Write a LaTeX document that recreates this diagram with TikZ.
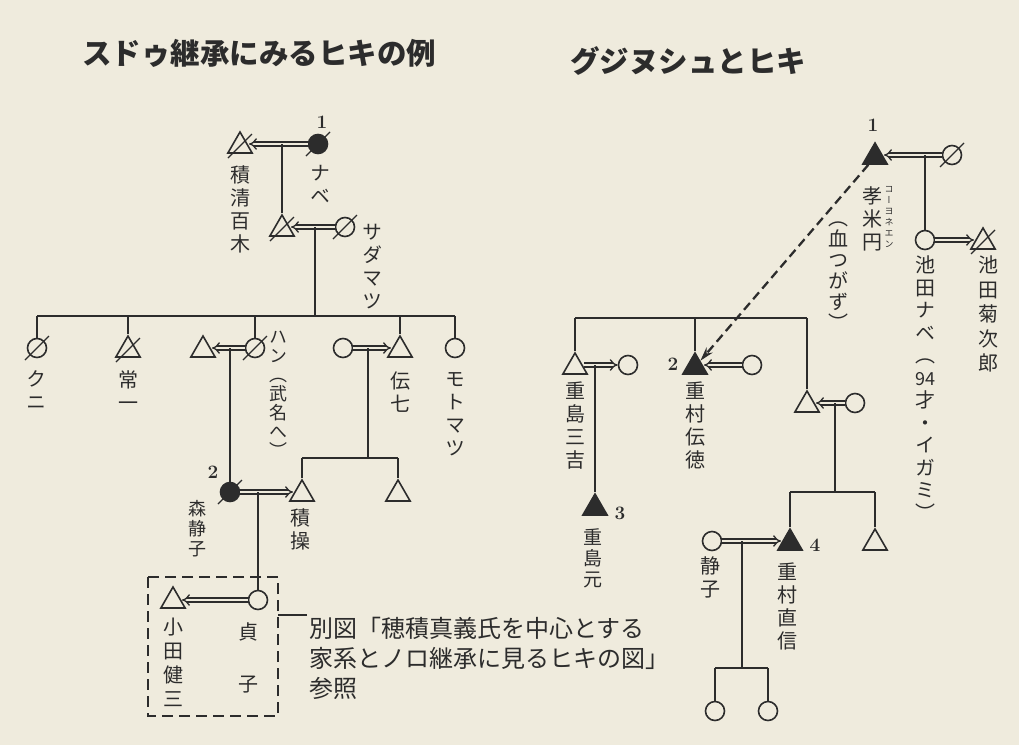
\documentclass[tikz,border=0pt]{standalone}
\usepackage{fontspec}
\usetikzlibrary{shapes.geometric,arrows.meta,calc}
\newfontfamily\jfont{Noto Sans CJK JP}
\newfontfamily\vfont[RawFeature=+vert]{Noto Sans CJK JP}
\definecolor{paper}{HTML}{EFEBDD}
\definecolor{ink}{HTML}{2C2C2C}
\newcommand\mycross[1]{\draw[draw=ink, line width=1.3pt] ($(#1)+(-12,12)$) -- ($(#1)+(12,-12)$);}
\begin{document}
\begin{tikzpicture}[x=1pt,y=-1pt,
 line/.style={draw=ink, line width=1.7pt},
 pcirc/.style={circle, draw=ink, line width=1.6pt, minimum size=19pt, inner sep=0pt, fill=paper},
 pfcirc/.style={pcirc, fill=ink},
 ptri/.style={regular polygon, regular polygon sides=3, draw=ink, line width=1.6pt, minimum size=28pt, inner sep=0pt, fill=paper},
 pftri/.style={ptri, fill=ink},
 dbl/.style={draw=ink, double=paper, double distance=2.6pt, line width=1.3pt, -{Implies}},
 dsh/.style={draw=ink, line width=2.3pt, dash pattern=on 9pt off 5pt, -{Stealth[length=14pt,width=8pt]}},
 vlab/.style={anchor=north, align=center, inner sep=0pt, text=ink, font=\vfont\fontsize{20}{23}\selectfont},
 num/.style={text=ink, font=\bfseries\fontsize{19}{19}\selectfont, inner sep=0pt},
 ttl/.style={anchor=west, inner sep=0pt, text=ink, font=\jfont\bfseries\fontsize{29.5}{29.5}\selectfont},
]
\fill[paper] (0,0) rectangle (1019,745);
\useasboundingbox (0,0) rectangle (1019,745);

% ---------- titles
\node[ttl] (title1) at (82,53) {スドゥ継承にみるヒキの例};
\node[ttl] (title2) at (570,61) {グジヌシュとヒキ};

% ================= LEFT =================
\node[pfcirc] (nabe) at (318,144) {};
\node[ptri] (tsumi) at (240,146) {};
\node[ptri] (c1) at (282,229) {};
\node[pcirc] (sada) at (345,227) {};
\node[pcirc] (kuni) at (37,348) {};
\node[ptri] (joi) at (128,350) {};
\node[ptri] (hanh) at (203,350) {};
\node[pcirc] (han) at (255,348) {};
\node[pcirc] (denw) at (343,348) {};
\node[ptri] (den7) at (400,350) {};
\node[pcirc] (moto) at (455,348) {};
\node[pfcirc] (shizu) at (230,492) {};
\node[ptri] (tsumis) at (302,494) {};
\node[ptri] (t2) at (398,494) {};
\node[pcirc] (sada2) at (258,600) {};
\node[ptri] (oda) at (173,601) {};

\mycross{nabe}
\mycross{tsumi}
\mycross{c1}
\mycross{sada}
\mycross{kuni}
\mycross{joi}
\mycross{han}
\mycross{shizu}

\draw[dbl] (nabe) -- (nabe -| tsumi.east);
\coordinate (m1) at (282,144);
\draw[line] (m1) -- (c1);
\draw[dbl] (sada) -- (sada -| c1.east);
\coordinate (m2) at (315,227);
\coordinate (barL) at (37,316);
\coordinate (barR) at (455,316);
\draw[line] (m2) -- (m2 |- barL);
\draw[line] (barL) -- (barR);
\draw[line] (kuni |- barL) -- (kuni);
\draw[line] (joi |- barL) -- (joi);
\draw[line] (han |- barL) -- (han);
\draw[line] (den7 |- barL) -- (den7);
\draw[line] (moto |- barL) -- (moto);
\draw[dbl] (han) -- (han -| hanh.east);
\coordinate (m3) at (230,348);
\draw[line] (m3) -- (shizu);
\draw[dbl] (denw) -- (denw -| den7.west);
\coordinate (m4) at (368,348);
\coordinate (bar2L) at (302,458);
\coordinate (bar2R) at (398,458);
\draw[line] (m4) -- (m4 |- bar2L);
\draw[line] (bar2L) -- (bar2R);
\draw[line] (bar2L) -- (tsumis);
\draw[line] (bar2R) -- (t2);
\draw[dbl] (shizu) -- (shizu -| tsumis.west);
\coordinate (m5) at (258,492);
\draw[line] (m5) -- (sada2);
\draw[dbl] (sada2) -- (sada2 -| oda.east);

% dashed box and pointer
\draw[draw=ink, line width=2pt, dash pattern=on 11pt off 6pt] (148,577) rectangle (278,716);
\coordinate (boxE) at (278,615);
\coordinate (ptr) at (307,615);
\draw[line, line width=2.2pt] (ptr) -- (boxE);
\node[anchor=north west, align=left, inner sep=0pt, text=ink, font=\jfont\fontsize{24}{30}\selectfont] (ref) at (309,617)
 {別図「穂積真義氏を中心とする\\家系とノロ継承に見るヒキの図」\\参照};

% labels left
\node[num] (n1) at (322,122) {1};
\node[num] (n2) at (213,472) {2};
\node[vlab] (lnabe) at (320,165) {ナ\\ベ};
\node[vlab] (ltsumi) at (240,165) {積\\清\\百\\木};
\node[vlab] (lsada) at (372,224) {サ\\ダ\\マ\\ツ};
\node[vlab] (lkuni) at (37,370) {ク\\ニ};
\node[vlab] (ljoi) at (128,370) {常\\一};
\node[vlab, font=\vfont\fontsize{18}{19}\selectfont] (lhan) at (278,331) {ハ\\ン\\（\\武\\名\\へ\\）};
\node[vlab] (lden7) at (400,372) {伝\\七};
\node[vlab] (lmoto) at (455,372) {モ\\ト\\マ\\ツ};
\node[vlab, font=\vfont\fontsize{18}{20}\selectfont] (lshizu) at (197,500) {森\\静\\子};
\node[vlab] (ltsumis) at (300,508) {積\\操};
\node[vlab, font=\vfont\fontsize{20}{24}\selectfont] (loda) at (173,618) {小\\田\\健\\三};
\node[vlab] (lsada2a) at (248,622) {貞};
\node[vlab] (lsada2b) at (248,676) {子};

% ================= RIGHT =================
\node[pftri] (kome) at (875,157) {};
\node[pcirc] (kwife) at (952,155) {};
\node[pcirc] (inabe) at (925,240) {};
\node[ptri] (kiku) at (983,242) {};
\node[ptri] (sanki) at (575,367) {};
\node[pcirc] (sw) at (628,365) {};
\node[pftri] (gen) at (595,508) {};
\node[pftri] (dentoku) at (695,367) {};
\node[pcirc] (dw) at (752,365) {};
\node[ptri] (t3) at (807,405) {};
\node[pcirc] (t3w) at (855,403) {};
\node[pftri] (nao) at (790,543) {};
\node[ptri] (t4) at (875,543) {};
\node[pcirc] (shz) at (712,541) {};
\node[pcirc] (g1) at (715,711) {};
\node[pcirc] (g2) at (768,711) {};

\mycross{kwife}
\mycross{kiku}

\draw[dbl] (kwife) -- (kwife -| kome.east);
\coordinate (m6) at (925,155);
\draw[line] (m6) -- (inabe);
\draw[dbl] (inabe) -- (inabe -| kiku.west);
\coordinate (bar3L) at (575,318);
\coordinate (bar3R) at (807,318);
\draw[line] (bar3L) -- (bar3R);
\draw[line] (bar3L) -- (sanki);
\draw[line] (dentoku |- bar3L) -- (dentoku);
\draw[line] (bar3R) -- (t3);
\draw[dbl] (sw -| sanki.east) -- (sw);
\coordinate (m7) at (595,365);
\draw[line] (m7) -- (gen);
\draw[dbl] (dw) -- (dw -| dentoku.east);
\draw[dbl] (t3w) -- (t3w -| t3.east);
\coordinate (m8) at (835,403);
\coordinate (bar4L) at (790,492);
\coordinate (bar4R) at (875,492);
\draw[line] (m8) -- (m8 |- bar4L);
\draw[line] (bar4L) -- (bar4R);
\draw[line] (bar4L) -- (nao);
\draw[line] (bar4R) -- (t4);
\draw[dbl] (shz) -- (shz -| nao.west);
\coordinate (m9) at (742,541);
\coordinate (bar5L) at (715,668);
\coordinate (bar5R) at (768,668);
\draw[line] (m9) -- (m9 |- bar5L);
\draw[line] (bar5L) -- (bar5R);
\draw[line] (bar5L) -- (g1);
\draw[line] (bar5R) -- (g2);
\draw[dsh] (kome) -- (dentoku);

% labels right
\node[num] (r1) at (873,125) {1};
\node[num] (r2) at (673,364) {2};
\node[num] (r3) at (620,513) {3};
\node[num] (r4) at (815,545) {4};
\node[vlab] (lkome) at (872,186) {孝\\米\\円};
\node[vlab, font=\vfont\fontsize{9}{11}\selectfont] (lruby) at (889,186) {コ\\ー\\ヨ\\ネ\\エ\\ン};
\node[vlab, font=\vfont\fontsize{20}{21}\selectfont] (lchi) at (838,222) {（\\血\\つ\\が\\ず\\）};
\node[vlab, font=\vfont\fontsize{20}{22.5}\selectfont] (linabe) at (925,256) {池\\田\\ナ\\ベ\\（\\{\jfont\fontsize{18}{18}\selectfont 94}\\才\\・\\イ\\ガ\\ミ\\）};
\node[vlab, font=\vfont\fontsize{20}{24.5}\selectfont] (lkiku) at (988,256) {池\\田\\菊\\次\\郎};
\node[vlab] (lsanki) at (575,382) {重\\島\\三\\吉};
\node[vlab, font=\vfont\fontsize{19}{21}\selectfont] (lgen) at (593,528) {重\\島\\元};
\node[vlab] (ldentoku) at (695,382) {重\\村\\伝\\徳};
\node[vlab] (lshz) at (710,556) {静\\子};
\node[vlab] (lnao) at (787,563) {重\\村\\直\\信};
\end{tikzpicture}
\end{document}
